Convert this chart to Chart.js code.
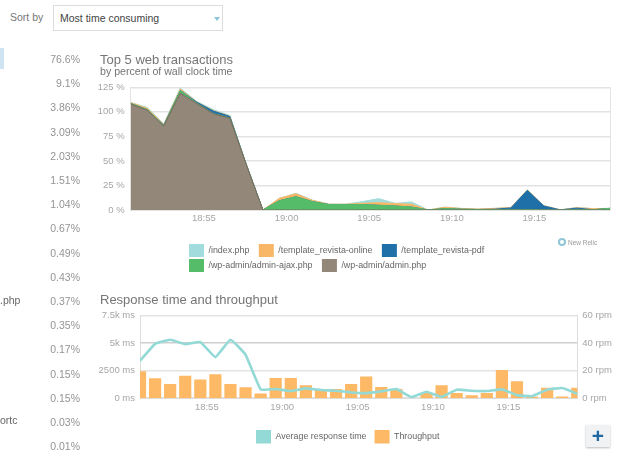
<!DOCTYPE html>
<html><head><meta charset="utf-8">
<script src="https://cdn.jsdelivr.net/npm/chart.js@4/dist/chart.umd.min.js"></script>
<style>
html,body{margin:0;padding:0;background:#fff;width:620px;height:458px;overflow:hidden;font-family:"Liberation Sans",Arial,sans-serif}
canvas{position:absolute;left:0}
.pct{position:absolute;right:540px;font-size:10.5px;color:#949494;line-height:14px;white-space:nowrap}
.clip{position:absolute;font-size:10.5px;color:#666;line-height:14px;white-space:nowrap}
#sortl{position:absolute;left:10px;top:10px;font-size:10.5px;color:#777;line-height:14px}
#sel{position:absolute;left:53px;top:5px;width:170px;height:26px;border:1px solid #dcdcdc;box-sizing:border-box;font-size:10.5px;color:#444;line-height:25px;padding-left:6px}
#arrow{position:absolute;left:160px;top:11px;width:0;height:0;border-left:3.5px solid transparent;border-right:3.5px solid transparent;border-top:4.5px solid #8ac6d4}
#hl{position:absolute;left:0;top:48px;width:4px;height:21px;background:#cfe4f2}
#nr{position:absolute;left:558px;top:238px;font-size:6.5px;color:#999;line-height:9px;white-space:nowrap}
#nr i{display:inline-block;width:4px;height:4px;border:2px solid #8fc6d4;border-radius:50%;vertical-align:-1px;margin-right:2px}
#plus{position:absolute;left:586px;top:425px;width:24px;height:22px;background:#f1f2f3;box-shadow:0 1px 2px #bbb;color:#1f6aa5;font-size:21px;font-weight:bold;text-align:center;line-height:21px}
</style></head><body>
<div id="hl"></div>
<div id="sortl">Sort by</div>
<div id="sel">Most time consuming<div id="arrow"></div></div>
<canvas id="top" width="620" height="232" style="top:48px;width:620px;height:232px"></canvas>
<canvas id="bot" width="620" height="168" style="top:288px;width:620px;height:168px"></canvas>
<div id="nr"><i></i>New Relic</div>
<div id="plus">+</div>
<div class="clip" style="left:0;top:293px">.php</div>
<div class="clip" style="left:0;top:413px;width:22px;overflow:hidden">ortc</div>
<script>
const percentages = ["76.6%","9.1%","3.86%","3.09%","2.03%","1.51%","1.04%","0.67%","0.49%","0.43%","0.37%","0.35%","0.17%","0.15%","0.15%","0.03%","0.01%"];
const minutes = [50.57,51.57,52.57,53.57,54.57,55.57,56.57,57.57,58.57,59.57,60.57,61.57,62.57,63.57,64.57,65.57,66.57,67.57,68.57,69.57,70.57,71.57,72.57,73.57,74.57,75.57,76.57,77.57,78.57,79.57];
const tickMinutes = [55,60,65,70,75];
const tickLabels = ["18:55","19:00","19:05","19:10","19:15"];
const adminPhp = [108,101.7,85.6,119,108.5,98,93.5,46,0,0,0,0,0,0,0,0,0,0,0,0,0,0,0,0,0,0,0,0,0,0];
const adminAjax = [0.5,0.5,0.5,2.5,0.3,0.3,0.3,0,0,9.5,13.5,8.5,5.5,5.5,5.5,4.8,4,3,0,1.4,0.8,0.5,0.4,0.4,0.5,0.2,0,0.4,0.3,1.7];
const revistaPdf = [0,0,0.3,0.2,1,2.5,1.5,0,0,0,0,0,0,0,0,0,0,0,0,0,0,0,0.4,1.7,19.5,3.8,0.1,1.5,0,0];
const revistaOnline = [0.8,1.5,0.8,1.5,0.2,0.5,0.3,0,0,2.5,3,1.3,0.4,0.4,1.3,2.7,2.5,2.8,0,1.4,0.7,0.4,0.8,0.4,0.3,0.3,0.1,0.4,1,0];
const indexPhp = [0.3,0.8,0.3,1,0.6,1,0.7,0,0,0,0.5,0.2,0.1,0.1,1.7,4.1,0.3,2.4,0,0.2,0.2,0.1,0.1,0.2,0.2,0.2,0,0.4,0.1,0];
const topTicks = [0,25,50,75,100,125];
const responseMs = [3380,4918,5287,4887,5070,3720,5287,3934,800,830,645,890,740,676,520,460,615,830,92,584,123,770,676,645,800,277,184,770,922,400];
const throughputRpm = [19.5,14.5,10.3,16.2,13.5,17.4,10.3,7.9,3.4,14.7,14.7,9.3,6,6.6,10.3,15.7,8.1,6.6,0,3.7,9.3,3.7,2.2,3.7,20.4,12.3,1,7.6,1.2,7.6];
const msTicks = [0,2500,5000,7500];
const msLabels = ["0 ms","2500 ms","5k ms","7.5k ms"];
const rpmTicks = [0,20,40,60];

percentages.forEach((p,i)=>{const d=document.createElement('div');d.className='pct';d.textContent=p;d.style.top=(52+i*24.2)+'px';document.body.appendChild(d);});

const FONT='"Liberation Sans",Arial,sans-serif';
const pts=a=>a.map((y,i)=>({x:minutes[i],y}));
const useTicks=(list)=>function(scale){scale.ticks=list.map(v=>({value:v}));};
const place={id:'place',afterLayout(chart,args,o){
  chart.boxes.forEach(b=>{
    if(b===chart.legend){b.left=o.legendLeft;b.right=o.legendRight;b.top=o.legendTop;b.bottom=o.legendTop+60;}
    else if(b.options&&b.options.text!==undefined){b.left=100;b.right=600;}
  });
}};
const gridColor='#e3e3e3';
const tickFont={family:FONT,size:9.5};
const legendFont={family:FONT,size:8.9};
const area=(label,a,color,line,fill)=>({label,data:pts(a),backgroundColor:color,borderColor:line||color,borderWidth:1,pointRadius:0,fill,tension:0});
const baseLabels=Chart.defaults.plugins.legend.labels.generateLabels;

new Chart(document.getElementById('top'),{type:'line',plugins:[place],
 data:{datasets:[
  area('/wp-admin/admin.php',adminPhp,'#93877a','#77695c','origin'),
  area('/wp-admin/admin-ajax.php',adminAjax,'#55bd69',null,'-1'),
  area('/template_revista-pdf',revistaPdf,'#1f6fa9',null,'-1'),
  area('/template_revista-online',revistaOnline,'#f8b767',null,'-1'),
  area('/index.php',indexPhp,'#a3dcdc',null,'-1')]},
 options:{responsive:false,animation:false,devicePixelRatio:1,
  layout:{padding:{bottom:25}},
  plugins:{
   place:{legendLeft:187,legendRight:520,legendTop:194},
   title:{display:true,text:'Top 5 web transactions',align:'start',color:'#757575',font:{family:FONT,size:13,weight:'normal',lineHeight:1},padding:{top:6,bottom:0}},
   subtitle:{display:true,text:'by percent of wall clock time',align:'start',color:'#757575',font:{family:FONT,size:10.6,weight:'normal',lineHeight:1},padding:{top:0,bottom:9.7}},
   legend:{position:'bottom',align:'start',reverse:true,labels:{boxWidth:15,boxHeight:13,padding:2,color:'#666',font:legendFont,
     generateLabels(c){return baseLabels(c).map(l=>({...l,text:l.text+'\u00a0\u00a0\u00a0',lineWidth:0}));}}},
   tooltip:{enabled:false}},
  scales:{
   x:{type:'linear',min:50.57,max:79.57,afterBuildTicks:useTicks(tickMinutes),afterFit(s){s.height=20;},
      grid:{display:false,drawTicks:false},border:{color:gridColor,width:1},
      ticks:{maxRotation:0,autoSkip:false,color:'#a6a6a6',font:tickFont,padding:3,callback:v=>tickLabels[tickMinutes.indexOf(v)]}},
   y:{stacked:true,min:0,max:125,afterBuildTicks:useTicks(topTicks),afterFit(s){s.width=130.7;},
      grid:{color:gridColor,lineWidth:1.5,drawTicks:false},border:{color:gridColor},
      ticks:{color:'#a6a6a6',padding:6,font:tickFont,callback:v=>v+' %'}},
   yr:{position:'right',display:true,min:0,max:125,afterFit(s){s.width=10;},grid:{display:false,drawTicks:false},border:{color:gridColor},ticks:{display:false}}
  }}});

new Chart(document.getElementById('bot'),{plugins:[place],
 data:{datasets:[
  {type:'line',label:'Average response time',data:pts(responseMs),yAxisID:'y',borderColor:'#93d9d6',backgroundColor:'#93d9d6',borderWidth:2.6,pointRadius:0,tension:0.1,order:0},
  {type:'bar',label:'Throughput',data:pts(throughputRpm),yAxisID:'y1',backgroundColor:'#fdb966',barPercentage:0.9,categoryPercentage:0.9,order:1}]},
 options:{responsive:false,animation:false,devicePixelRatio:1,
  layout:{padding:{bottom:6.3}},
  plugins:{
   place:{legendLeft:248,legendRight:560,legendTop:134},
   title:{display:true,text:'Response time and throughput',align:'start',color:'#757575',font:{family:FONT,size:13,weight:'normal',lineHeight:1},padding:{top:6,bottom:8.3}},
   legend:{position:'bottom',align:'start',labels:{boxWidth:15,boxHeight:13.5,padding:8,color:'#666',font:legendFont,
     generateLabels(c){return baseLabels(c).map(l=>({...l,lineWidth:0}));}}},
   tooltip:{enabled:false}},
  scales:{
   x:{type:'linear',offset:false,min:50.57,max:79.57,afterBuildTicks:useTicks(tickMinutes),afterFit(s){s.height=20;},
      grid:{display:false,drawTicks:false},border:{color:'#ddd'},
      ticks:{maxRotation:0,autoSkip:false,color:'#a6a6a6',font:tickFont,padding:3,callback:v=>tickLabels[tickMinutes.indexOf(v)]}},
   y:{min:0,max:7500,afterBuildTicks:useTicks(msTicks),afterFit(s){s.width=140;},
      grid:{color:c=>c.tick&&c.tick.value===5000?'#cfcfcf':gridColor,lineWidth:1.5,drawTicks:false},border:{color:'#ddd'},
      ticks:{color:'#a6a6a6',padding:5,font:tickFont,callback:v=>msLabels[msTicks.indexOf(v)]}},
   y1:{position:'right',min:0,max:60,afterBuildTicks:useTicks(rpmTicks),afterFit(s){s.width=42.7;},
      grid:{display:false,drawTicks:false},border:{color:'#ddd'},
      ticks:{color:'#a6a6a6',padding:5,font:tickFont,callback:v=>v+' rpm'}}
  }}});
</script></body></html>
